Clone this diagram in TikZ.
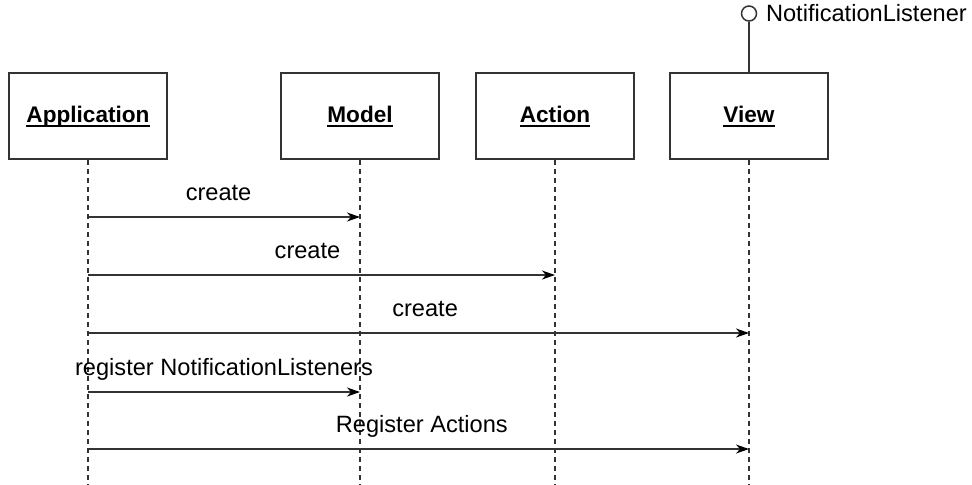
\documentclass[tikz,border=0pt]{standalone}
\usepackage{fontspec}
\setmainfont{Liberation Sans}
\usetikzlibrary{positioning}
\usetikzlibrary{calc}
\usetikzlibrary{arrows.meta}
\definecolor{linegray}{HTML}{333333}
\newcommand{\objname}[1]{\setbox0\hbox{#1}\rlap{\rule[-2.3pt]{\wd0}{0.7pt}}\box0}

\begin{document}
\begin{tikzpicture}[x=0.5pt,y=-0.5pt,
          object/.style={draw=linegray,line width=0.75pt,rectangle,minimum width=79pt,minimum height=43pt,text height=9pt,text depth=3pt,font=\fontsize{11.3}{13}\selectfont\bfseries},
          lifeline/.style={draw=linegray,line width=0.75pt,dash pattern=on 2.5pt off 2pt},
          message/.style={draw=linegray,line width=0.75pt,-{Stealth[length=6.5pt,width=4.5pt,inset=2pt,color=black]}},
          msglabel/.style={font=\fontsize{11.8}{14}\selectfont,anchor=base,yshift=8.5pt,inner sep=0pt}]
          \useasboundingbox (0,0) rectangle (972,484);
          \node (app) [object] at (88,116) {\objname{Application}};
          \node (model) [object] at (360,116) {\objname{Model}};
          \node (action) [object] at (555,116) {\objname{Action}};
          \node (view) [object] at (749,116) {\objname{View}};
          \node (iface) [draw=linegray,line width=0.75pt,circle,minimum size=7.5pt,inner sep=0pt] at (749,13.5) {};
          \node (ifacename) [right=4.2pt of iface,inner sep=0pt,font=\fontsize{11.8}{14}\selectfont] {NotificationListener};
          \draw [draw=linegray,line width=0.75pt] (view.north) to (iface.south);
          \draw [lifeline] (app.south) to (app.south |- 0,484);
          \draw [lifeline] (model.south) to (model.south |- 0,484);
          \draw [lifeline] (action.south) to (action.south |- 0,484);
          \draw [lifeline] (view.south) to (view.south |- 0,484);
          \draw [message] (app |- 0,217) to node [msglabel,pos=0.48] {create} (model |- 0,217);
          \draw [message] (app |- 0,275) to node [msglabel,pos=0.47] {create} (action |- 0,275);
          \draw [message] (app |- 0,333) to node [msglabel,pos=0.51] {create} (view |- 0,333);
          \draw [message] (app |- 0,392) to node [msglabel,pos=0.5] {register NotificationListeners} (model |- 0,392);
          \draw [message] (app |- 0,449) to node [msglabel,pos=0.505] {Register Actions} (view |- 0,449);
        \end{tikzpicture}
\end{document}
